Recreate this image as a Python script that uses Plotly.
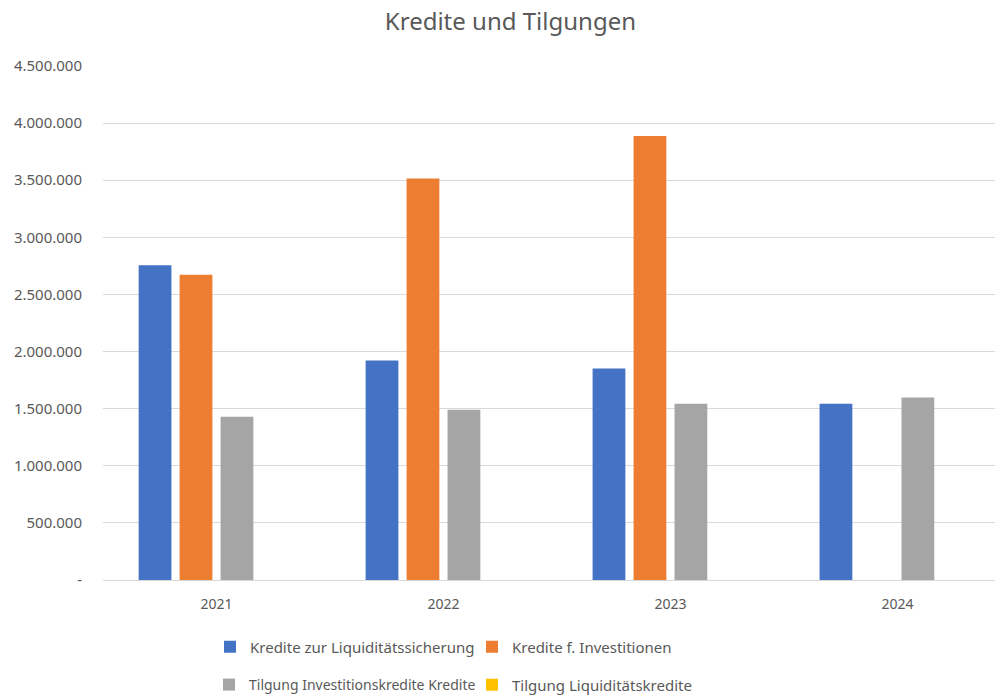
import plotly.graph_objects as go

years = ["2021", "2022", "2023", "2024"]
series_names = [
    "Kredite zur Liquiditätssicherung",
    "Kredite f. Investitionen",
    "Tilgung Investitionskredite Kredite",
    "Tilgung Liquiditätskredite",
]
liquiditaet = [2755000, 1922000, 1852000, 1543000]
investitionen = [2672000, 3514000, 3887000, 0]
tilgung_invest = [1429000, 1491000, 1543000, 1598000]
tilgung_liq = [0, 0, 0, 0]
colors = ["#4472C4", "#ED7D31", "#A5A5A5", "#FFC000"]

tick_vals = [0, 500000, 1000000, 1500000, 2000000, 2500000, 3000000, 3500000, 4000000, 4500000]
tick_text = ["-", "500.000", "1.000.000", "1.500.000", "2.000.000", "2.500.000",
             "3.000.000", "3.500.000", "4.000.000", "4.500.000"]

values = [liquiditaet, investitionen, tilgung_invest, tilgung_liq]
legend_ids = ["legend", "legend2", "legend3", "legend4"]

fig = go.Figure()
for name, vals, col, lg in zip(series_names, values, colors, legend_ids):
    fig.add_trace(go.Bar(
        x=years, y=vals, name=name, legend=lg, showlegend=True,
        marker=dict(color=col, line=dict(width=0)),
        hoverinfo="x+y+name",
    ))

font_family = "Noto Sans, sans-serif"
grey = "#595959"


def legend_at(text_x, text_y, size):
    return dict(
        orientation="h", xref="container", yref="container",
        x=(text_x - 40) / 995, y=1 - text_y / 695,
        xanchor="left", yanchor="middle",
        font=dict(family=font_family, size=size, color=grey),
        bgcolor="rgba(0,0,0,0)", itemclick=False, itemdoubleclick=False,
    )


fig.update_layout(
    width=995, height=695,
    showlegend=True,
    margin=dict(l=103, r=0, t=66, b=115),
    paper_bgcolor="white", plot_bgcolor="white",
    barmode="group", bargap=0.278, bargroupgap=0.2,
    title=dict(text="Kredite und Tilgungen", x=0.513, xanchor="center",
               y=1 - 22 / 695, yanchor="middle",
               font=dict(family=font_family, size=24, color=grey)),
    font=dict(family=font_family, color=grey),
    legend=legend_at(250, 647, 15),
    legend2=legend_at(512, 647, 15),
    legend3=legend_at(249, 685, 14),
    legend4=legend_at(512, 685, 15),
    xaxis=dict(
        range=[-0.5, 3.43],
        showgrid=False, showline=True, linecolor="#d9d9d9", linewidth=1,
        ticks="", tickfont=dict(family=font_family, size=14, color=grey),
        ticklabelstandoff=11,
    ),
    yaxis=dict(
        range=[0, 4500000], tickvals=tick_vals, ticktext=tick_text,
        showgrid=True, gridcolor="#d9d9d9", gridwidth=1,
        zeroline=False, showline=False, ticks="",
        tickfont=dict(family=font_family, size=15, color=grey),
        ticklabelstandoff=20,
    ),
)

fig.write_html("out.html")
